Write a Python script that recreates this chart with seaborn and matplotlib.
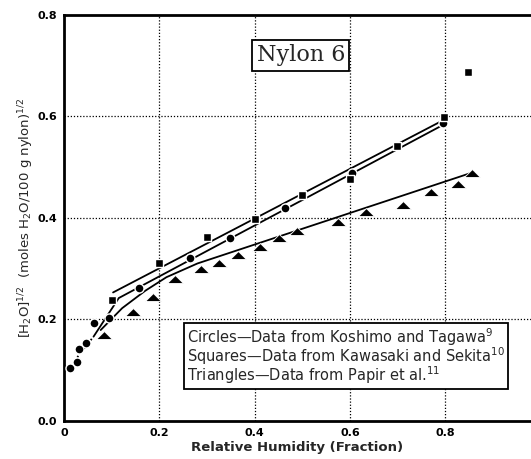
import matplotlib
matplotlib.use("Agg")
import matplotlib.pyplot as plt
import seaborn as sns

# Water sorption in Nylon 6: square root of uptake vs relative humidity
circle_rh = [0.013, 0.027, 0.031, 0.046, 0.063, 0.094, 0.157, 0.264, 0.348, 0.464, 0.604, 0.795]
circle_h2o = [0.104, 0.117, 0.141, 0.153, 0.193, 0.202, 0.262, 0.321, 0.360, 0.419, 0.488, 0.587]

square_rh = [0.101, 0.199, 0.300, 0.401, 0.499, 0.600, 0.699, 0.797, 0.848]
square_h2o = [0.238, 0.311, 0.362, 0.398, 0.445, 0.476, 0.541, 0.598, 0.687]

tri_rh = [0.084, 0.145, 0.187, 0.233, 0.288, 0.325, 0.365, 0.411, 0.451, 0.489,
          0.575, 0.634, 0.711, 0.770, 0.827, 0.856]
tri_h2o = [0.170, 0.215, 0.245, 0.279, 0.300, 0.310, 0.327, 0.342, 0.360, 0.373,
           0.391, 0.412, 0.426, 0.450, 0.467, 0.489]

# Fitted curves
circle_fit_low_rh = [0.010, 0.030, 0.050, 0.062]
circle_fit_low_h2o = [0.098, 0.128, 0.152, 0.166]
circle_fit_rh = [0.062, 0.115, 0.800]
circle_fit_h2o = [0.166, 0.242, 0.585]
square_fit_rh = [0.103, 0.800]
square_fit_h2o = [0.253, 0.594]
tri_fit_rh = [0.077, 0.122, 0.170, 0.215, 0.280, 0.860]
tri_fit_h2o = [0.179, 0.222, 0.256, 0.283, 0.310, 0.490]

x_ticks = [0, 0.2, 0.4, 0.6, 0.8]
x_ticklabels = ["0", "0.2", "0.4", "0.6", "0.8"]
y_ticks = [0.0, 0.2, 0.4, 0.6, 0.8]
y_ticklabels = ["0.0", "0.2", "0.4", "0.6", "0.8"]

sns.set_style("white")
plt.rcParams["font.family"] = ["DejaVu Sans"]

fig = plt.figure(figsize=(5.31, 4.59), dpi=100)
ax = fig.add_axes([0.1205, 0.0828, 0.8795, 0.8856])

line_kw = dict(color="black", linewidth=1.3, estimator=None, sort=False, ax=ax, legend=False)
sns.lineplot(x=circle_fit_low_rh, y=circle_fit_low_h2o, linestyle=(0, (1, 2)), **line_kw)
sns.lineplot(x=circle_fit_rh, y=circle_fit_h2o, **line_kw)
sns.lineplot(x=square_fit_rh, y=square_fit_h2o, **line_kw)
sns.lineplot(x=tri_fit_rh, y=tri_fit_h2o, **line_kw)

tri_marker = [(-1.0, -0.5), (1.0, -0.5), (0.0, 0.5), (-1.0, -0.5)]
sns.scatterplot(x=circle_rh, y=circle_h2o, marker="o", s=42, color="black",
                edgecolor="white", linewidth=1.0, ax=ax, zorder=5)
sns.scatterplot(x=square_rh, y=square_h2o, marker="s", s=36, color="black",
                edgecolor="white", linewidth=1.0, ax=ax, zorder=5)
sns.scatterplot(x=tri_rh, y=tri_h2o, marker=tri_marker, s=130, color="black",
                edgecolor="white", linewidth=0.6, ax=ax, zorder=5)

ax.set_xlim(0, 0.98)
ax.set_ylim(0, 0.8)
ax.set_xticks(x_ticks)
ax.set_xticklabels(x_ticklabels)
ax.set_yticks(y_ticks)
ax.set_yticklabels(y_ticklabels)
ax.tick_params(axis="both", labelsize=8, width=1.2, length=3, direction="out",
               colors="black", pad=2)
ax.tick_params(axis="x", length=0, pad=5)
for lab in ax.get_xticklabels() + ax.get_yticklabels():
    lab.set_fontweight("bold")

for g in [0.2, 0.4, 0.6, 0.8]:
    ax.axvline(g, color="black", linestyle=(0, (1, 1.5)), linewidth=0.9, zorder=0)
for g in [0.2, 0.4, 0.6]:
    ax.axhline(g, color="black", linestyle=(0, (1, 1.5)), linewidth=0.9, zorder=0)

for side in ["left", "bottom", "top"]:
    ax.spines[side].set_visible(True)
    ax.spines[side].set_color("black")
    ax.spines[side].set_linewidth(2.0)
ax.spines["right"].set_visible(False)

ax.set_xlabel("Relative Humidity (Fraction)", fontsize=9.5, fontweight="bold", labelpad=2)
ax.set_ylabel(r"[H$_2$O]$^{1/2}$  (moles H$_2$O/100 g nylon)$^{1/2}$",
              fontsize=9.5, labelpad=1)

ax.text(0.497, 0.72, "Nylon 6", fontsize=16, family="DejaVu Serif",
        ha="center", va="center",
        bbox=dict(boxstyle="square,pad=0.2", facecolor="white", edgecolor="black", linewidth=1.3))

legend_text = ("Circles\u2014Data from Koshimo and Tagawa$^{9}$\n"
               "Squares\u2014Data from Kawasaki and Sekita$^{10}$\n"
               "Triangles\u2014Data from Papir et al.$^{11}$")
ax.text(0.258, 0.128, legend_text, fontsize=10.5, ha="left", va="center",
        linespacing=0.85,
        bbox=dict(boxstyle="square,pad=0.2", facecolor="white", edgecolor="black", linewidth=1.3),
        zorder=6)

fig.savefig("out.png", dpi=100)
